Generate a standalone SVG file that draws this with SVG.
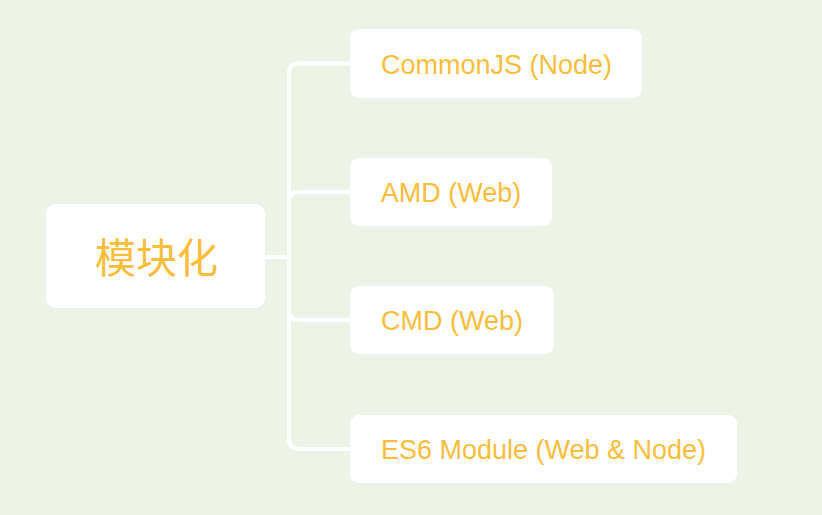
<svg xmlns="http://www.w3.org/2000/svg" width="822" height="515" viewBox="0 0 822 515">
<style>
.box{fill:#ffffff}
.t{fill:#fbbd3c;font-family:"Liberation Sans",Arial,sans-serif;font-size:27px;text-anchor:middle}
.root{fill:#fbbd3c;font-family:"Noto Sans CJK SC","Liberation Sans",sans-serif;font-size:41px;text-anchor:middle}
.c{fill:none;stroke:#ffffff;stroke-width:4}
</style>
<rect width="822" height="515" fill="#edf4e7"/>
<g id="connectors">
<path class="c" d="M265 257 H289"/>
<path class="c" d="M350 63.5 H299 Q289 63.5 289 73.5 V439 Q289 449 299 449 H350"/>
<path class="c" d="M350 192 H299 Q289 192 289 202"/>
<path class="c" d="M350 320 H299 Q289 320 289 310"/>
</g>
<g id="root">
<rect class="box" x="46" y="204" width="219" height="104" rx="10"/>
<text class="root" x="156.5" y="255" dominant-baseline="central">模块化</text>
</g>
<g id="commonjs">
<rect class="box" x="350" y="29" width="292" height="69" rx="9"/>
<text class="t" x="496.5" y="73.5">CommonJS (Node)</text>
</g>
<g id="amd">
<rect class="box" x="350" y="158" width="202" height="68" rx="9"/>
<text class="t" x="451" y="202">AMD (Web)</text>
</g>
<g id="cmd">
<rect class="box" x="350" y="286" width="204" height="68" rx="9"/>
<text class="t" x="452" y="330">CMD (Web)</text>
</g>
<g id="es6">
<rect class="box" x="350" y="415" width="387" height="68" rx="9"/>
<text class="t" x="543.5" y="459">ES6 Module (Web &amp; Node)</text>
</g>
</svg>
